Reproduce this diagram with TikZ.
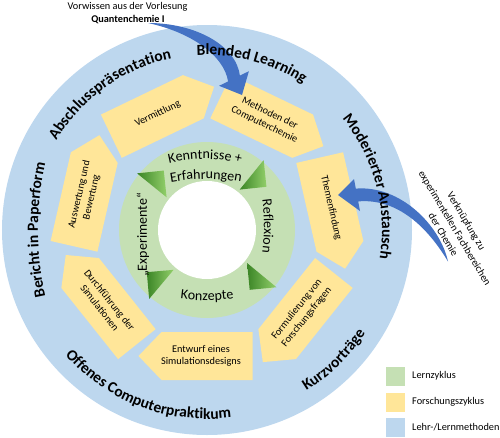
\documentclass[tikz,border=0pt]{standalone}
\usepackage{fontspec}
\setmainfont{Carlito}
\usetikzlibrary{decorations.text}
\definecolor{ringblue}{HTML}{BDD7EE}
\definecolor{cycyellow}{HTML}{FFE699}
\definecolor{cycgreen}{HTML}{C5E0B4}
\definecolor{arrowblue}{HTML}{4472C4}
\definecolor{tridark}{HTML}{3B8526}
\definecolor{trilight}{HTML}{92CF6A}
\newcommand\ringBfont{\fontsize{15.5}{15.5}\selectfont\bfseries}
\newcommand\ringGfont{\fontsize{14}{14}\selectfont}
\begin{document}
\begin{tikzpicture}[x=1pt,y=1pt,
  shapetext/.style={font=\fontsize{10.3}{12.5}\selectfont, align=center, inner sep=0pt},
  note/.style={font=\fontsize{10.3}{13.4}\selectfont, align=center, inner sep=0pt},
  legendbox/.style={minimum size=19pt, inner sep=0pt},
  legendlabel/.style={font=\fontsize{10.3}{12}\selectfont, anchor=west, inner sep=0pt},
  ringG/.style={decorate, decoration={text along path, text align=center, text={|\ringGfont|#1}}},
  ringB/.style={decorate, decoration={text along path, text align=center, text={|\ringBfont|#1}}}]
\useasboundingbox (-207,-207) rectangle (293,230);
% outer ring: teaching methods
\fill[ringblue] (0,0) circle[radius=205pt];
% research cycle shapes
\foreach \ang/\rot/\txt/\nm in {
  115.71/25.71/{Vermittlung}/s1,
  64.29/-25.71/{Methoden der\\Computerchemie}/s2,
  12.86/-77.14/{Themenfindung}/s3,
  -38.57/51.43/{Formulierung von\\Forschungsfragen}/s4,
  -90/0/{Entwurf eines\\Simulationsdesigns}/s5,
  -141.43/-51.43/{Durchführung der\\Simulationen}/s6,
  167.14/77.14/{Auswertung und\\Bewertung}/s7}{
  \begin{scope}[rotate=\ang]
    \fill[cycyellow] (102,45.5) -- (150,45.5) -- (150,-45.5) -- (126,-68.5) -- (102,-45.5) -- cycle;
    \node[shapetext, rotate=\rot] (\nm) at (126,-6) {\txt};
  \end{scope}
}
% learning cycle ring
\fill[cycgreen] (0,0) circle[radius=88pt];
\fill[white] (0,0) circle[radius=49pt];
\foreach \b in {141,51,-39.5,-130}{
  \begin{scope}[rotate=\b]
    \shade[left color=tridark, right color=trilight] (52,0) -- (90,0) -- (71,-19) -- cycle;
  \end{scope}
}
\path[shift={(-2,-79)}, ringG={Kenntnisse +}] (125:150pt) arc[start angle=125, end angle=55, radius=150pt];
\path[shift={(-1,-149)}, ringG={Erfahrungen}] (110:200pt) arc[start angle=110, end angle=70, radius=200pt];
\path[shift={(-143,4)}, ringG={Reflexion}] (25:200pt) arc[start angle=25, end angle=-25, radius=200pt];
\path[shift={(0,129.5)}, ringG={Konzepte}] (250:200pt) arc[start angle=250, end angle=290, radius=200pt];
\node[font=\ringGfont, inner sep=0pt, anchor=base, rotate=90] (exp) at (-60,-5) {„Experimente“};
% curved arrows
\fill[arrowblue] (-59,207) .. controls (-12,207) and (29,185) .. (32.9,154.4) -- (41.9,158.8) -- (35,135) -- (12.1,144.2) -- (21.1,148.6) .. controls (17,175) and (-17,198) .. (-59,207) -- cycle;
\fill[arrowblue] (241,-31.5) .. controls (233,5) and (193,45) .. (148.8,41.4) -- (147,51) -- (131,35) -- (153,19) -- (151.2,28.6) .. controls (191,32) and (221,2) .. (241,-31.5) -- cycle;
% teaching method labels
\path[ringB={Abschlusspräsentation}] (180:175pt) arc[start angle=180, end angle=71, radius=175pt];
\path[ringB={Blended Learning}] (125:175pt) arc[start angle=125, end angle=25, radius=175pt];
\path[ringB={Moderierter Austausch}] (70:175pt) arc[start angle=70, end angle=-40, radius=175pt];
\path[ringB={Kurzvorträge}] (-95.7:189pt) arc[start angle=-95.7, end angle=4.3, radius=189pt];
\path[ringB={Offenes Computerpraktikum}] (-175.6:189pt) arc[start angle=-175.6, end angle=-45.6, radius=189pt];
\path[shift={(131,0)}, ringB={Bericht in Paperform}] (205:300pt) arc[start angle=205, end angle=155, radius=300pt];
% annotations
\node[note, anchor=base] (prior1) at (-79.5,221) {Vorwissen aus der Vorlesung};
\node[note, anchor=base, font=\fontsize{10.3}{12}\selectfont\bfseries] (prior2) at (-79,208) {Quantenchemie I};
\node[note, rotate=-59.3] (link) at (248,2) {Verknüpfung zu\\experimentellen Fachbereichen\\der Chemie};
% legend
\node[legendbox, fill=cycgreen] (lg1) at (188.5,-146) {};
\node[legendbox, fill=cycyellow] (lg2) at (188.5,-172) {};
\node[legendbox, fill=ringblue] (lg3) at (188.5,-197.5) {};
\node[legendlabel] (lt1) at (205,-146) {Lernzyklus};
\node[legendlabel] (lt2) at (205,-172) {Forschungszyklus};
\node[legendlabel] (lt3) at (205,-197.5) {Lehr-/Lernmethoden};
\end{tikzpicture}
\end{document}
